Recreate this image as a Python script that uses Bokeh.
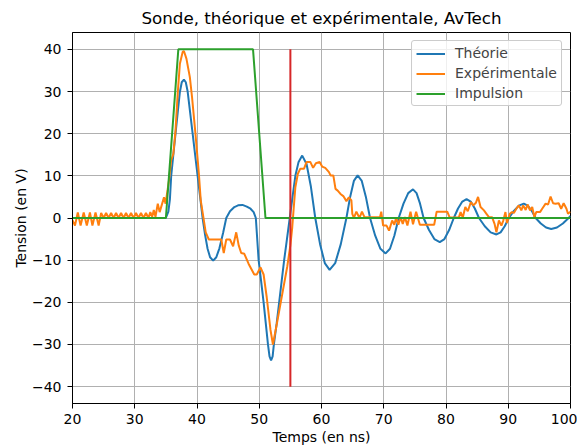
from bokeh.plotting import figure
from bokeh.models import Range1d, FixedTicker
from bokeh.embed import file_html
from bokeh.resources import INLINE

TITLE = "Sonde, théorique et expérimentale, AvTech"
X_LABEL = "Temps (en ns)"
Y_LABEL = "Tension (en V)"
x_ticks = [20, 30, 40, 50, 60, 70, 80, 90, 100]
y_ticks = [-40, -30, -20, -10, 0, 10, 20, 30, 40]

# Théorie (t in ns, V)
theorie = [
    (20, 0), (35.0, 0), (35.4, 1.5), (35.65, 4.5), (35.85, 9.9), (36.2, 15), (36.55, 20),
    (36.9, 25), (37.25, 29.9), (37.55, 32.2), (37.9, 32.8), (38.2, 32.2), (38.5, 30),
    (38.9, 25), (39.3, 20), (39.7, 15), (40.1, 10), (40.5, 5), (40.9, 0), (41.3, -4),
    (41.7, -7.3), (42.1, -9.3), (42.6, -10.1), (43.1, -9.3), (43.6, -7.2), (44.2, -3.5),
    (44.7, 0), (45.3, 1.6), (46.0, 2.6), (46.6, 3.0), (47.3, 3.1), (48.0, 2.7), (48.6, 2.2),
    (49.1, 1.4), (49.45, 0), (49.9, -10), (50.3, -15), (50.7, -20), (51.05, -25), (51.4, -30),
    (51.65, -32.8), (51.9, -33.8), (52.15, -32.8), (52.35, -30), (52.8, -25), (53.2, -20),
    (53.6, -15), (54.0, -10), (54.45, -5), (54.9, 0), (55.35, 5), (55.8, 10), (56.3, 13.2),
    (56.9, 14.8), (57.6, 12.8), (58.3, 7.4), (59.0, 0), (59.77, -6.2), (60.53, -10.7),
    (61.3, -12.3), (62.2, -10.7), (63.1, -6.2), (64.0, 0), (64.6, 5.0), (65.2, 8.8),
    (65.8, 10.1), (66.47, 8.8), (67.13, 5.0), (67.8, 0), (68.63, -4.2), (69.47, -7.3),
    (70.3, -8.4), (71.0, -7.3), (71.7, -4.2), (72.4, 0), (73.17, 3.4), (73.93, 5.9),
    (74.7, 6.8), (75.27, 5.9), (75.83, 3.4), (76.4, 0), (77.27, -2.85), (78.13, -5.0),
    (79.0, -5.7), (79.75, -5.0), (80.5, -2.85), (81.25, 0), (81.93, 2.25), (82.62, 3.9),
    (83.3, 4.5), (83.97, 3.9), (84.63, 2.25), (85.3, 0), (86.23, -1.95), (87.17, -3.4),
    (88.1, -3.9), (88.77, -3.4), (89.43, -1.95), (90.1, 0), (90.9, 1.7), (91.7, 2.95),
    (92.5, 3.4), (93.13, 2.95), (93.77, 1.7), (94.4, 0), (95.23, -1.3), (96.07, -2.25),
    (96.9, -2.6), (97.83, -2.25), (98.77, -1.3), (99.7, 0), (100, 0.5),
]

# Expérimentale (t in ns, V)
experimentale = [
    (20.0, -0.5), (20.4, -1.8), (20.85, 1.3), (21.3, -1.8), (21.8, 1.3), (22.3, -1.8),
    (22.8, 1.3), (23.2, -1.8), (23.7, 1.3), (24.2, -1.8),
    (24.6, 1.2), (25.0, 0), (25.4, 1.2), (25.8, 0), (26.2, 1.2), (26.6, 0), (27.0, 1.2),
    (27.4, 0), (27.8, 1.2), (28.2, 0), (28.6, 1.2), (29.0, 0), (29.4, 1.2), (29.8, 0),
    (30.2, 1.2), (30.6, 0), (31.0, 1.2), (31.4, 0), (31.8, 1.2), (32.2, 0),
    (32.5, 1.4), (32.8, 0.3), (33.06, 1.9), (33.33, 0.3), (33.7, 3.4), (34.0, 1.4),
    (34.7, 4.9), (34.95, 3.4), (35.5, 8.9), (35.85, 13.7), (36.2, 15.2), (36.55, 20.8),
    (36.9, 29.5), (37.25, 36.6), (37.7, 39.4), (37.9, 39.6), (38.3, 37.8), (38.85, 33.4),
    (39.2, 28.7), (39.75, 20), (40.3, 10.5), (40.6, 4.2), (41.4, -3.4), (41.9, -5.1),
    (43.9, -5.1), (44.3, -8.3), (44.7, -5.1), (45.3, -5.1), (45.8, -6.7), (46.3, -3.4),
    (46.7, -6.5), (47.1, -8.3), (47.6, -8.5), (48.3, -10.9), (49.2, -13.4), (49.6, -13.4),
    (50.2, -11.7), (50.7, -13.4), (51.2, -18.8), (51.8, -26.5), (52.2, -30), (52.9, -24.5),
    (53.7, -18), (54.5, -11.5), (55.0, -6.5), (55.3, -2.2), (55.55, 2.6), (55.8, 7.3),
    (56.2, 10.5), (56.6, 11.7), (57.2, 11.7), (57.6, 13.3), (58.2, 13.3), (58.65, 11.9),
    (59.1, 13.0), (59.7, 13.3), (60.1, 12.2), (60.6, 11.9), (61.2, 10.9), (61.45, 10.1),
    (61.9, 10.1), (62.25, 6.9), (62.6, 6.5), (63.05, 5.7), (63.5, 5.2), (64.0, 4.0),
    (64.4, 4.9), (64.8, 4.2), (64.95, 1.0), (65.2, 0), (65.6, 1.5), (66.1, 0), (66.5, 1.5),
    (66.9, 0.2), (69.4, 0.2), (69.6, 1.5), (69.9, -1.8), (70.45, -1.8), (70.85, -3.0),
    (71.35, -0.6), (71.7, -1.6), (72.0, 0.2), (72.35, -1.6), (72.7, 0.2), (73.05, -1.4),
    (73.4, 0.2), (73.8, -1.8), (74.3, 1.5), (74.7, -1.5), (75.2, 1.5), (75.8, -1.6),
    (78.1, -1.6), (78.5, 1.5), (80.2, 1.5), (80.6, 0.1), (82.05, 0.1), (82.35, 1.4),
    (82.7, 0.1), (83.1, 2.6), (83.5, 1.6), (84.0, 3.8), (84.4, 3.0), (84.8, 3.6),
    (85.15, 5.0), (85.55, 2.6), (86.1, 1.8), (86.5, 1.0), (86.9, 0.2), (87.4, 0.2),
    (87.8, -1.4), (88.1, -3.4), (88.5, -0.6), (88.9, -1.8), (89.2, -0.6), (89.55, 1.4),
    (89.8, -1.2), (90.25, 1.0), (90.6, 1.4), (90.9, 1.2), (91.3, 2.2), (91.7, 3.0),
    (92.1, 1.8), (92.4, 3.0), (92.8, 1.9), (93.1, 3.2), (93.5, 1.8), (93.85, 2.6),
    (94.2, 0.2), (94.5, 1.4), (95.1, 1.4), (95.45, 2.2), (96.0, 3.4), (96.4, 3.2),
    (96.8, 5.1), (97.2, 3.5), (97.6, 3.4), (98.1, 3.5), (98.5, 2.2), (98.9, 3.5),
    (99.35, 2.2), (99.6, 1.0), (100, 1.5),
]

# Impulsion (t in ns, V)
impulsion = [(20, 0), (35, 0), (37, 40), (49, 40), (51, 0), (100, 0)]

# Red marker line
marker_t = [55, 55]
marker_v = [-40, 40]

FONT = "DejaVu Sans"

p = figure(width=577, height=447, output_backend="svg", toolbar_location=None,
           x_range=Range1d(20, 100), y_range=Range1d(-44, 44), title=TITLE,
           min_border_left=72, min_border_right=7, min_border_top=32, min_border_bottom=43)

p.title.text_font = FONT
p.title.text_font_size = "16.7px"
p.title.text_font_style = "normal"
p.title.align = "center"
p.title.text_color = "black"

p.line([t for t, v in theorie], [v for t, v in theorie], color="#1f77b4", line_width=2, legend_label="Théorie")
p.line([t for t, v in experimentale], [v for t, v in experimentale], color="#ff7f0e", line_width=2, legend_label="Expérimentale")
p.line([t for t, v in impulsion], [v for t, v in impulsion], color="#2ca02c", line_width=2, legend_label="Impulsion")
p.line(marker_t, marker_v, color="#d62728", line_width=2)

p.xaxis.ticker = FixedTicker(ticks=x_ticks)
p.yaxis.ticker = FixedTicker(ticks=y_ticks)
p.yaxis.major_label_overrides = {v: ("\u2212" + str(-v)) for v in y_ticks if v < 0}
p.xaxis.axis_label = X_LABEL
p.yaxis.axis_label = Y_LABEL
for ax in (p.xaxis, p.yaxis):
    ax.axis_label_text_font = FONT
    ax.axis_label_text_font_size = "14px"
    ax.axis_label_text_font_style = "normal"
    ax.axis_label_text_color = "black"
    ax.major_label_text_font = FONT
    ax.major_label_text_font_size = "14px"
    ax.major_label_text_color = "black"
    ax.major_tick_out = 5
    ax.major_tick_in = 0
    ax.minor_tick_out = 0
    ax.minor_tick_in = 0
    ax.axis_line_color = "black"
    ax.major_tick_line_color = "black"
p.xaxis.major_label_standoff = 5
p.yaxis.major_label_standoff = 6
p.xaxis.axis_label_standoff = 2
p.yaxis.axis_label_standoff = 0

p.xgrid.grid_line_color = "#b0b0b0"
p.ygrid.grid_line_color = "#b0b0b0"
p.outline_line_color = "black"
p.outline_line_alpha = 1
p.outline_line_width = 1

lg = p.legend[0]
lg.location = "top_right"
lg.border_line_color = "#cccccc"
lg.border_line_alpha = 1
lg.background_fill_color = "white"
lg.background_fill_alpha = 0.8
lg.label_text_font = FONT
lg.label_text_font_size = "14px"
lg.glyph_width = 29
lg.glyph_height = 15
lg.label_height = 15
lg.label_standoff = 10
lg.spacing = 4
lg.padding = 4
lg.margin = 8
try:
    lg.border_radius = 3
except Exception:
    pass

open("out.html", "w").write(file_html(p, INLINE))
